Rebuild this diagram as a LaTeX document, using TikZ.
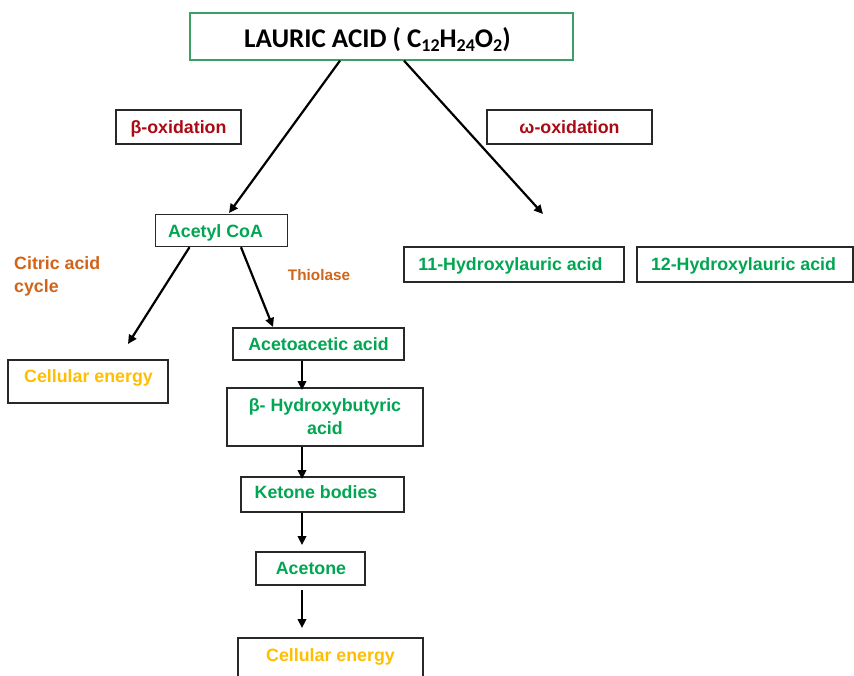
\documentclass[tikz,border=0pt]{standalone}
\usepackage{fontspec}
\setmainfont{Liberation Sans}
\newfontfamily\calibrifont{Carlito}
\usetikzlibrary{arrows.meta}
\definecolor{txtgreen}{RGB}{0,166,81}
\definecolor{txtred}{RGB}{170,10,20}
\definecolor{txtorange}{RGB}{210,100,25}
\definecolor{txtyellow}{RGB}{255,190,0}
\definecolor{boxgray}{RGB}{40,40,40}
\definecolor{topgreen}{RGB}{60,160,100}
\newcommand\lasub[1]{\raisebox{-4.5pt}{\fontsize{18}{20}\selectfont #1}}
\tikzset{
  box/.style={draw=boxgray, line width=1.4pt, inner sep=0pt, fill=white},
  lbl/.style={font=\bfseries\fontsize{17.8}{22.4}\selectfont, inner sep=0pt, text height=12.8pt, text depth=0pt},
  mlbl/.style={font=\bfseries\fontsize{17.8}{22.4}\selectfont, inner sep=0pt},
  arr/.style={line width=2.2pt, -{Triangle[length=9pt,width=8.5pt]}, black}
}
\begin{document}
\begin{tikzpicture}[x=1pt,y=-1pt]
\clip (0,0) rectangle (854,675);
\fill[white] (0,0) rectangle (854,675);

% top box
\node[draw=topgreen, line width=1.3pt, minimum width=383pt, minimum height=47pt, inner sep=0pt] (lauric) at (381.5,36.5) {};
\node[font=\calibrifont\bfseries\fontsize{27}{31}\selectfont, inner sep=0pt, text height=17.5pt, text depth=0pt] (lauric-t) at (377.5,38.5) {LAURIC ACID ( C\lasub{12}H\lasub{24}O\lasub{2})};

% oxidation labels
\node[box, minimum width=125pt, minimum height=34pt] (beta) at (178.5,127) {};
\node[lbl, text=txtred] (beta-t) at (178.5,127) {β-oxidation};
\node[box, minimum width=165pt, minimum height=34pt] (omega) at (569.5,127) {};
\node[lbl, text=txtred] (omega-t) at (569.5,127) {ω-oxidation};

% acetyl coa
\node[box, minimum width=132pt, minimum height=32pt] (acetyl) at (221.5,230.5) {};
\node[lbl, text=txtgreen] (acetyl-t) at (215.5,231) {Acetyl CoA};

% hydroxylauric
\node[box, minimum width=220pt, minimum height=35pt] (h11) at (514,264.5) {};
\node[lbl, text=txtgreen] (h11-t) at (510.5,264) {11-Hydroxylauric acid};
\node[box, minimum width=216pt, minimum height=35pt] (h12) at (745,264.5) {};
\node[lbl, text=txtgreen] (h12-t) at (743.5,264) {12-Hydroxylauric acid};

% side labels
\node[mlbl, text=txtorange, align=left, anchor=north west] (citric) at (14,256.5) {Citric acid\\cycle};
\node[lbl, text=txtorange, font=\bfseries\fontsize{15.3}{18}\selectfont, text height=11pt] (thiolase) at (319,275) {Thiolase};

% left cellular energy
\node[box, minimum width=160pt, minimum height=43pt] (cell1) at (88,381.5) {};
\node[lbl, text=txtyellow] (cell1-t) at (88.5,376) {Cellular energy};

% ketone chain
\node[box, minimum width=171pt, minimum height=32pt] (acetoacetic) at (318.5,344) {};
\node[lbl, text=txtgreen] (acetoacetic-t) at (318.5,344.5) {Acetoacetic acid};

\node[box, minimum width=196pt, minimum height=58pt] (hydroxy) at (325,417) {};
\node[mlbl, text=txtgreen, align=center, anchor=north] (hydroxy-t) at (325,398.6) {β- Hydroxybutyric\\acid};

\node[box, minimum width=163pt, minimum height=35pt] (ketone) at (322.5,494.5) {};
\node[lbl, text=txtgreen] (ketone-t) at (316,492.5) {Ketone bodies};

\node[box, minimum width=109pt, minimum height=33pt] (acetone) at (310.5,568.5) {};
\node[lbl, text=txtgreen] (acetone-t) at (311,568) {Acetone};

\node[box, minimum width=185pt, minimum height=60pt] (cell2) at (330.5,668) {};
\node[lbl, text=txtyellow] (cell2-t) at (330.5,655) {Cellular energy};

% arrow end coordinates
\coordinate (e1) at (229,213);
\coordinate (e2) at (543,214);
\coordinate (e3) at (128,344);
\coordinate (e4) at (273,327);
\coordinate (e5) at (302,390);
\coordinate (e6) at (302,479);
\coordinate (e7) at (302,545);
\coordinate (e8) at (302,628);
\coordinate (s8) at (302,590);

% connectors
\draw[arr] ([xshift=-41.5pt]lauric.south) -- (e1);
\draw[arr] ([xshift=22.5pt]lauric.south) -- (e2);
\draw[arr] ([xshift=-32pt]acetyl.south) -- (e3);
\draw[arr] ([xshift=19.5pt]acetyl.south) -- (e4);
\draw[arr] ([xshift=-16.5pt]acetoacetic.south) -- (e5);
\draw[arr] (hydroxy.south -| e6) -- (e6);
\draw[arr] (ketone.south -| e7) -- (e7);
\draw[arr] (s8) -- (e8);
\end{tikzpicture}
\end{document}
